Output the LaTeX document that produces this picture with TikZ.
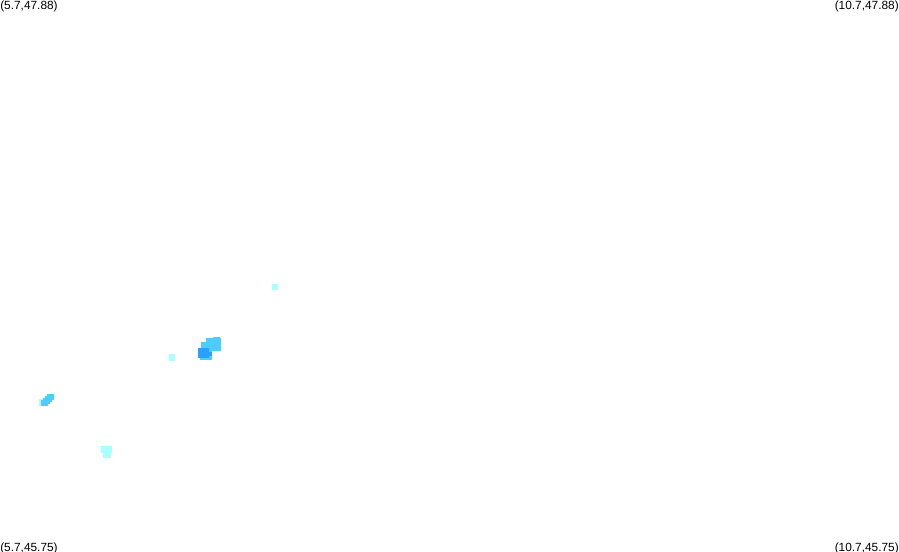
\documentclass[tikz,border=0pt]{standalone}
\usepackage{fontspec}
\setmainfont{Liberation Sans}
\definecolor{palecell}{HTML}{AAFFFF}
\definecolor{midcell}{HTML}{4CCCFF}
\definecolor{deepcell}{HTML}{2AA0FF}
\usetikzlibrary{positioning}
\tikzset{
  corner/.style={inner sep=0pt,font=\fontsize{8.9}{10}\selectfont,text=black},
  pale/.style={fill=palecell},
  mid/.style={fill=midcell},
  deep/.style={fill=deepcell}
}
\begin{document}
\begin{tikzpicture}[x=0.75pt,y=-0.75pt]
\useasboundingbox (0,0) rectangle (899,552);
\fill [white] (0,0) rectangle (899,552);
% corner labels
\node [corner,anchor=north west] (nw) at (0,0.5) {(5.7,47.88)};
\node [corner,anchor=north east] (ne) at (899,0.5) {(10.7,47.88)};
\node [corner,anchor=south west] (sw) at (0,554) {(5.7,45.75)};
\node [corner,anchor=south east] (se) at (899,554) {(10.7,45.75)};
% single cells
\fill [pale] (272,284) rectangle (278,290);
\fill [pale] (169,354) rectangle (175,361);
% lower cluster
\fill [pale] (101,446) rectangle (112,453);
\fill [pale] (103,453) rectangle (111,458);
% left streak
\fill [pale] (39,399) rectangle (43,406);
\foreach \x/\y in {41/400,43/398,45/396,47/394}
  \fill [mid] (\x,\y) rectangle ++(7,6);
% central cluster
\fill [mid] (201,342) rectangle (212,352);
\fill [mid] (206,338) rectangle (221,351);
\fill [mid] (213,337) rectangle (220,338);
\fill [mid] (200,356) rectangle (212,360);
\fill [deep] (198,348) rectangle (209,358);
\fill [deep] (204,352) rectangle (212,356);
\end{tikzpicture}
\end{document}
